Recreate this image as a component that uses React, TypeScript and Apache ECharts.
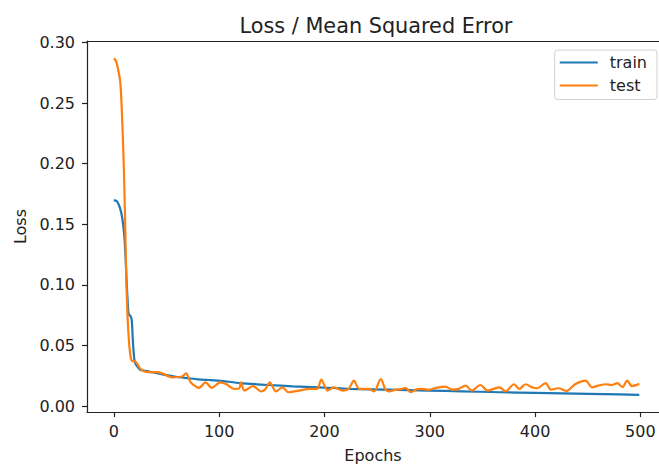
import React, { useEffect, useRef } from "react";
import * as echarts from "echarts";

const TITLE = "Loss / Mean Squared Error";
const X_LABEL = "Epochs";
const Y_LABEL = "Loss";
const SERIES_NAMES = ["train", "test"];
const X_TICKS = [0, 100, 200, 300, 400, 500];
const Y_TICKS = [0, 0.05, 0.1, 0.15, 0.2, 0.25, 0.3];

const TRAIN: [number, number][] = [
  [0, 0.170], [3, 0.169], [6, 0.163], [8, 0.155], [10, 0.140], [11, 0.125],
  [12, 0.105], [13, 0.088], [14, 0.076], [16, 0.074], [17, 0.071], [18, 0.055],
  [19, 0.042], [20, 0.036], [22, 0.033], [25, 0.030], [30, 0.029], [36, 0.028],
  [42, 0.027], [50, 0.0255], [60, 0.024], [70, 0.023], [80, 0.022], [90, 0.0215],
  [100, 0.021], [120, 0.019], [147, 0.0174], [170, 0.0163], [195, 0.0155],
  [223, 0.0142], [260, 0.0135], [299, 0.0128], [330, 0.0122], [366, 0.0114],
  [400, 0.0109], [451, 0.0101], [480, 0.0096], [499, 0.0093],
];

const TEST: [number, number][] = [
  [0, 0.287], [2, 0.285], [4, 0.278], [6, 0.268], [7, 0.255], [8, 0.234],
  [9, 0.21], [10, 0.18], [11, 0.14], [12, 0.10], [13, 0.074], [14, 0.058],
  [15, 0.047], [16.3, 0.039], [18, 0.037], [20, 0.037], [22, 0.035], [25, 0.031],
  [28, 0.029], [33, 0.028], [40, 0.028], [46, 0.027], [52, 0.0245], [56, 0.0236],
  [62, 0.024], [65, 0.0245], [68.5, 0.027], [73, 0.0196], [79, 0.0155], [81, 0.015],
  [87, 0.0196], [93, 0.015], [101, 0.0196], [107, 0.018], [114, 0.0142], [119, 0.0145],
  [120.6, 0.0196], [124, 0.0128], [132, 0.0165], [140, 0.012], [144, 0.014],
  [148, 0.0196], [154, 0.012], [160, 0.0155], [166, 0.0114], [176, 0.0128],
  [186, 0.0142], [193, 0.0142], [197, 0.0218], [203, 0.0128], [209, 0.0155],
  [217, 0.0128], [223, 0.0142], [228, 0.021], [233, 0.0142], [242, 0.0142],
  [247, 0.012], [253.5, 0.0222], [258, 0.0135], [261, 0.0122], [268, 0.0135],
  [274, 0.0142], [277, 0.015], [282, 0.0114], [288, 0.014], [293, 0.0142],
  [299, 0.0134], [306, 0.015], [315, 0.016], [321, 0.0136], [327, 0.014],
  [334, 0.0169], [340, 0.0128], [348, 0.0174], [355, 0.0128], [360, 0.014],
  [366, 0.0155], [372, 0.0122], [380, 0.018], [385, 0.0142], [391, 0.018],
  [397, 0.0155], [402, 0.0147], [410, 0.019], [415, 0.0136], [422, 0.0147],
  [430, 0.0125], [438, 0.018], [448, 0.021], [454, 0.0155], [460, 0.0169],
  [467, 0.018], [473, 0.0174], [478, 0.019], [483, 0.0158], [487.5, 0.021],
  [492, 0.0165], [499, 0.0183],
];

const FONT = "DejaVu Sans";
const INK = "#222";
const X_MIN = -25.5;
const X_MAX = 517.7;

export default function App() {
  const ref = useRef<HTMLDivElement>(null);
  useEffect(() => {
    if (!ref.current) return;
    const chart = echarts.init(ref.current, null, { renderer: "svg" });
    chart.setOption({
      animation: false,
      backgroundColor: "#fff",
      textStyle: { fontFamily: FONT },
      graphic: [
        {
          type: "text",
          x: 376,
          y: 15,
          style: {
            text: TITLE,
            font: `20.8px "${FONT}"`,
            fill: INK,
            textAlign: "center",
            textVerticalAlign: "top",
          },
        },
      ],
      grid: {
        left: 87,
        top: 41,
        right: 0,
        bottom: 51,
        show: false,
      },
      legend: {
        orient: "vertical",
        right: 2,
        top: 50,
        data: SERIES_NAMES,
        itemWidth: 38,
        itemHeight: 14,
        itemGap: 7,
        padding: [4.5, 10, 6, 4],
        backgroundColor: "#fff",
        borderColor: "#d0d0d0",
        borderWidth: 1,
        borderRadius: 3,
        itemStyle: { opacity: 0 },
        lineStyle: { width: 2.2 },
        textStyle: { fontSize: 16, color: INK, fontFamily: FONT, padding: [0, 0, 0, 7] },
      },
      xAxis: [
        {
          type: "value",
          min: X_MIN,
          max: X_MAX,
          name: X_LABEL,
          nameLocation: "middle",
          nameGap: 35,
          nameTextStyle: { fontSize: 16, color: INK, fontFamily: FONT },
          axisLine: { show: true, onZero: false, lineStyle: { color: INK, width: 1.2 } },
          axisTick: { show: true, customValues: X_TICKS, length: 5, lineStyle: { color: INK, width: 1.2 } },
          axisLabel: {
            customValues: X_TICKS,
            margin: 11,
            fontSize: 16,
            color: INK,
            fontFamily: FONT,
          },
          splitLine: { show: false },
        },
        {
          type: "value",
          position: "top",
          min: X_MIN,
          max: X_MAX,
          axisLine: { show: true, onZero: false, lineStyle: { color: INK, width: 1.2 } },
          axisTick: { show: false },
          axisLabel: { show: false },
          splitLine: { show: false },
        },
      ],
      yAxis: {
        type: "value",
        min: -0.0049,
        max: 0.3013,
        name: Y_LABEL,
        nameLocation: "middle",
        nameGap: 57,
        nameRotate: 90,
        nameTextStyle: { fontSize: 16, color: INK, fontFamily: FONT },
        axisLine: { show: true, onZero: false, lineStyle: { color: INK, width: 1.2 } },
        axisTick: { show: true, customValues: Y_TICKS, length: 5, lineStyle: { color: INK, width: 1.2 } },
        axisLabel: {
          customValues: Y_TICKS,
          margin: 12,
          fontSize: 16,
          color: INK,
          fontFamily: FONT,
          formatter: (v: number) => v.toFixed(2),
        },
        splitLine: { show: false },
      },
      series: [
        {
          name: SERIES_NAMES[0],
          type: "line",
          data: TRAIN,
          symbol: "none",
          smooth: 0.2,
          lineStyle: { color: "#1f77b4", width: 2.2 },
          itemStyle: { color: "#1f77b4" },
        },
        {
          name: SERIES_NAMES[1],
          type: "line",
          data: TEST,
          symbol: "none",
          smooth: 0.3,
          lineStyle: { color: "#ff7f0e", width: 2.2 },
          itemStyle: { color: "#ff7f0e" },
        },
      ],
    });
    return () => chart.dispose();
  }, []);
  return <div ref={ref} style={{ width: 659, height: 468, position: "absolute", left: 0, top: 0 }} />;
}
